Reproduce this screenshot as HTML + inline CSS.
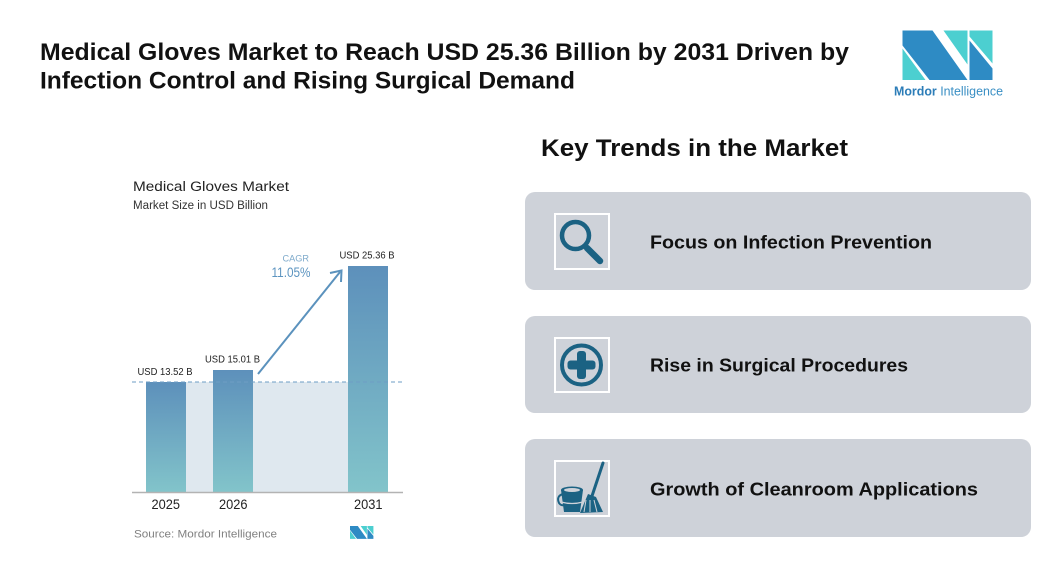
<!DOCTYPE html>
<html>
<head>
<meta charset="utf-8">
<style>
html,body{margin:0;padding:0;background:#fff;}
body{width:1056px;height:568px;overflow:hidden;}
svg{display:block;}
text{font-family:"Liberation Sans",Arial,sans-serif;}
</style>
</head>
<body>
<svg width="1056" height="568" viewBox="0 0 1056 568" xmlns="http://www.w3.org/2000/svg">
<defs>
<linearGradient id="bg" x1="0" y1="0" x2="0" y2="1">
<stop offset="0" stop-color="#5d90bb"/>
<stop offset="1" stop-color="#82c4ca"/>
</linearGradient>
</defs>
<rect width="1056" height="568" fill="#fff"/>

<!-- Title -->
<text x="40" y="60" font-size="24" font-weight="bold" fill="#111" textLength="809" lengthAdjust="spacingAndGlyphs">Medical Gloves Market to Reach USD 25.36 Billion by 2031 Driven by</text>
<text x="40" y="88.5" font-size="24" font-weight="bold" fill="#111" textLength="535" lengthAdjust="spacingAndGlyphs">Infection Control and Rising Surgical Demand</text>

<!-- Logo -->
<g transform="translate(902.5,30.5)">
<polygon points="0,18 0,49.5 23,49.5" fill="#4ccfd0"/>
<polygon points="0,0 30,0 65,49.5 27,49.5 0,15" fill="#2e8bc4"/>
<polygon points="41,0 65,0 65,34" fill="#4ccfd0"/>
<polygon points="67,0 90,0 90,33 67,6" fill="#4ccfd0"/>
<polygon points="67,10 90,38 90,49.5 67,49.5" fill="#2e8bc4"/>
</g>
<text x="894" y="95.5" font-size="13" fill="#2c7db8" textLength="109" lengthAdjust="spacingAndGlyphs"><tspan font-weight="bold">Mordor</tspan><tspan fill="#3a8fc4"> Intelligence</tspan></text>

<!-- Chart -->
<text x="133" y="191" font-size="13.5" fill="#222" textLength="156" lengthAdjust="spacingAndGlyphs">Medical Gloves Market</text>
<text x="133" y="209" font-size="11.5" fill="#333" textLength="135" lengthAdjust="spacingAndGlyphs">Market Size in USD Billion</text>

<rect x="186" y="382" width="162" height="110" fill="#dfe8ef"/>
<rect x="146" y="382" width="40" height="110" fill="url(#bg)"/>
<rect x="213" y="370" width="40" height="122" fill="url(#bg)"/>
<rect x="348" y="266" width="40" height="226" fill="url(#bg)"/>
<line x1="132" y1="382" x2="403" y2="382" stroke="#6e9ec4" stroke-width="1" stroke-dasharray="4,3"/>
<line x1="132" y1="492.5" x2="403" y2="492.5" stroke="#b3b3b3" stroke-width="1.5"/>

<text x="137.5" y="375" font-size="10" fill="#222" textLength="55" lengthAdjust="spacingAndGlyphs">USD 13.52 B</text>
<text x="205" y="362.5" font-size="10" fill="#222" textLength="55" lengthAdjust="spacingAndGlyphs">USD 15.01 B</text>
<text x="339.5" y="258.5" font-size="10" fill="#222" textLength="55" lengthAdjust="spacingAndGlyphs">USD 25.36 B</text>

<text x="282.5" y="261.5" font-size="9.5" fill="#7eaacb" textLength="26.5" lengthAdjust="spacingAndGlyphs">CAGR</text>
<text x="271.5" y="277" font-size="13.5" fill="#5c94c0" textLength="39" lengthAdjust="spacingAndGlyphs">11.05%</text>

<line x1="258" y1="374" x2="340" y2="272" stroke="#5b92bd" stroke-width="2"/>
<polyline points="330,273 341.5,270.5 341,282" fill="none" stroke="#5b92bd" stroke-width="2"/>

<text x="151.5" y="509" font-size="13.5" fill="#222" textLength="28.5" lengthAdjust="spacingAndGlyphs">2025</text>
<text x="219" y="509" font-size="13.5" fill="#222" textLength="28.5" lengthAdjust="spacingAndGlyphs">2026</text>
<text x="354" y="509" font-size="13.5" fill="#222" textLength="28.5" lengthAdjust="spacingAndGlyphs">2031</text>

<text x="134" y="537.5" font-size="11" fill="#808080" textLength="143" lengthAdjust="spacingAndGlyphs">Source: Mordor Intelligence</text>
<g transform="translate(350,526) scale(0.26)">
<polygon points="0,18 0,49.5 23,49.5" fill="#4ccfd0"/>
<polygon points="0,0 30,0 65,49.5 27,49.5 0,15" fill="#2e8bc4"/>
<polygon points="41,0 65,0 65,34" fill="#4ccfd0"/>
<polygon points="67,0 90,0 90,33 67,6" fill="#4ccfd0"/>
<polygon points="67,10 90,38 90,49.5 67,49.5" fill="#2e8bc4"/>
</g>

<!-- Right side -->
<text x="541" y="156" font-size="24" font-weight="bold" fill="#111" textLength="307" lengthAdjust="spacingAndGlyphs">Key Trends in the Market</text>

<rect x="525" y="192" width="506" height="98" rx="10" fill="#ced2d9"/>
<rect x="525" y="316" width="506" height="97" rx="10" fill="#ced2d9"/>
<rect x="525" y="439" width="506" height="98" rx="10" fill="#ced2d9"/>

<!-- icon boxes -->
<rect x="555" y="214" width="54" height="55" fill="none" stroke="#fff" stroke-width="2"/>
<rect x="555" y="338" width="54" height="54" fill="none" stroke="#fff" stroke-width="2"/>
<rect x="555" y="461" width="54" height="55" fill="none" stroke="#fff" stroke-width="2"/>

<!-- magnifier -->
<circle cx="575.5" cy="235.5" r="13.5" fill="none" stroke="#1b6283" stroke-width="4.5"/>
<line x1="587" y1="248" x2="600" y2="261" stroke="#1b6283" stroke-width="6.5" stroke-linecap="round"/>

<!-- plus circle -->
<circle cx="581.5" cy="365" r="19.5" fill="none" stroke="#1b6283" stroke-width="4"/>
<rect x="577" y="351" width="9" height="28" rx="3" fill="#1b6283"/>
<rect x="567.5" y="360.5" width="28" height="9" rx="3" fill="#1b6283"/>

<!-- bucket and mop -->
<g fill="#1b6283" stroke="none">
<path d="M561,490 L583,490 L580,512 L564,512 Z"/>
<ellipse cx="572" cy="490" rx="11" ry="3.5" fill="#1b6283"/>
<ellipse cx="572" cy="490" rx="8" ry="2" fill="#ced2d9"/>
<path d="M563,494 q-7,2 -4,9 q2,3 5,2" fill="none" stroke="#1b6283" stroke-width="2"/>
<path d="M561,502 q11,3 22,0" fill="none" stroke="#ced2d9" stroke-width="1.2"/>
<line x1="603" y1="463" x2="592" y2="496" stroke="#1b6283" stroke-width="3" stroke-linecap="round"/>
<path d="M588,494 L596,497 L603,512 L580,513 Z"/>
<path d="M586,500 L584,512 M590,500 L590,512 M594,500 L597,512" stroke="#ced2d9" stroke-width="1"/>
</g>

<text x="650" y="248.5" font-size="18" font-weight="bold" fill="#111" textLength="282" lengthAdjust="spacingAndGlyphs">Focus on Infection Prevention</text>
<text x="650" y="371.5" font-size="18" font-weight="bold" fill="#111" textLength="258" lengthAdjust="spacingAndGlyphs">Rise in Surgical Procedures</text>
<text x="650" y="495.5" font-size="18" font-weight="bold" fill="#111" textLength="328" lengthAdjust="spacingAndGlyphs">Growth of Cleanroom Applications</text>
</svg>
</body>
</html>
